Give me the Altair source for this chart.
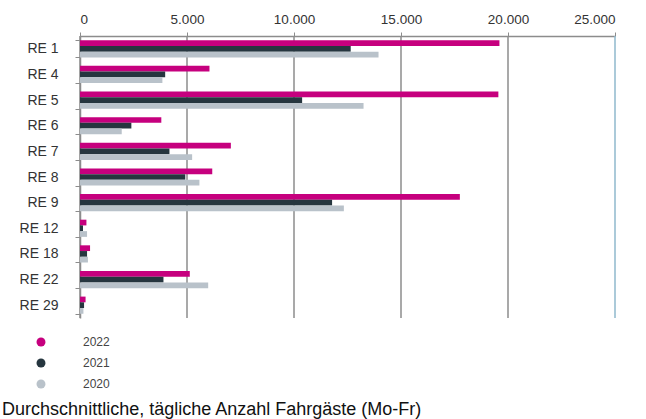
import altair as alt
import pandas as pd

lines = ["RE 1", "RE 4", "RE 5", "RE 6", "RE 7", "RE 8", "RE 9", "RE 12", "RE 18", "RE 22", "RE 29"]
years = ["2022", "2021", "2020"]
v2022 = [19600, 6050, 19550, 3800, 7050, 6180, 17750, 300, 470, 5130, 260]
v2021 = [12650, 3980, 10380, 2400, 4180, 4920, 11780, 140, 330, 3900, 190]
v2020 = [13950, 3850, 13250, 1950, 5240, 5580, 12330, 330, 370, 5990, 160]
colors = ["#C6007E", "#26363F", "#B9C2CA"]
x_ticks = [0, 5000, 10000, 15000, 20000, 25000]
grid_colors = ["#8c8c8c", "#8c8c8c", "#8c8c8c", "#8c8c8c", "#8c8c8c", "#8fb9cc"]
caption = "Durchschnittliche, tägliche Anzahl Fahrgäste (Mo-Fr)"

rows = []
for i, line in enumerate(lines):
    for y, vals in zip(years, [v2022, v2021, v2020]):
        rows.append({"Linie": line, "Jahr": y, "Fahrgäste": vals[i]})
df = pd.DataFrame(rows)
grid_df = pd.DataFrame({"tick": x_ticks, "gc": grid_colors})

xscale = alt.Scale(domain=[0, 25000], nice=False)
xaxis = alt.Axis(orient="top", values=x_ticks, title=None,
                 labelExpr="replace(format(datum.value, ','), ',', '.')",
                 labelFont="Liberation Sans", labelFontSize=13.5, labelColor="#333333",
                 labelPadding=6, tickSize=4, tickColor="#8c8c8c",
                 domainColor="#8c8c8c", domainWidth=1.5, grid=False)

grid = alt.Chart(grid_df).mark_rule(strokeWidth=1.5).encode(
    x=alt.X("tick:Q", scale=xscale, axis=xaxis, title=None),
    color=alt.Color("gc:N", scale=None, legend=None),
)

bars = alt.Chart(df).mark_bar().encode(
    x=alt.X("Fahrgäste:Q", scale=xscale, axis=xaxis, title=None),
    y=alt.Y("Linie:N", sort=lines,
            scale=alt.Scale(paddingInner=0.33, paddingOuter=0.165),
            axis=alt.Axis(title=None, labelFont="Liberation Sans", labelFontSize=14,
                          labelColor="#333333", labelPadding=17, tickBand="extent",
                          tickSize=5, tickColor="#8c8c8c", domainColor="#8c8c8c",
                          domainWidth=1.5)),
    yOffset=alt.YOffset("Jahr:N", sort=years, scale=alt.Scale(paddingInner=0)),
    color=alt.Color("Jahr:N", sort=years,
                    scale=alt.Scale(domain=years, range=colors),
                    legend=alt.Legend(title=None, orient="none", legendX=-45, legendY=300,
                                      symbolType="circle", symbolSize=80,
                                      labelFont="Liberation Sans", labelFontSize=12,
                                      labelColor="#444444", labelOffset=36,
                                      rowPadding=9, symbolStrokeWidth=0)),
)

chart = alt.layer(grid, bars).resolve_scale(color="independent").properties(
    width=535, height=282,
    autosize=alt.AutoSizeParams(type="none"),
    padding={"left": 80, "top": 36, "right": 31, "bottom": 101},
    title=alt.TitleParams(caption, orient="bottom", anchor="start", dx=-17, offset=11,
                          font="Liberation Sans", fontSize=18, fontWeight="normal",
                          color="#111111"),
).configure_view(stroke=None)

chart.save("out.html", embed_options={"renderer": "svg", "actions": False})
